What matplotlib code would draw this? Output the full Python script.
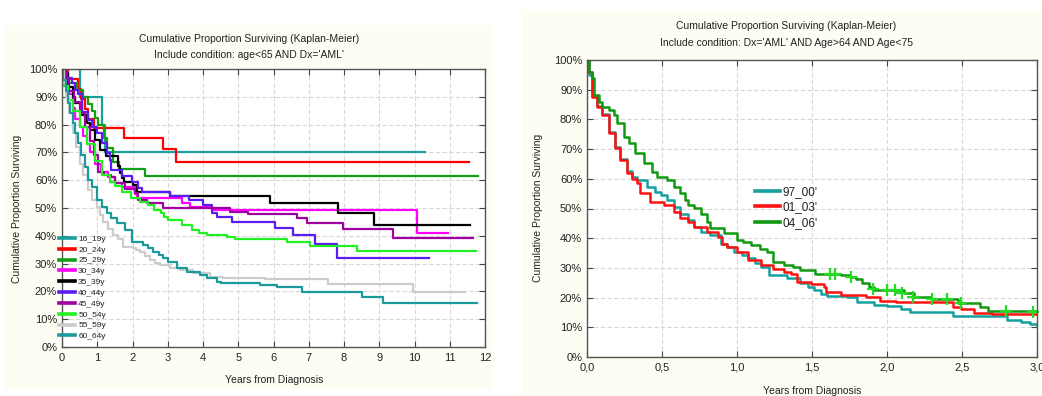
import matplotlib
matplotlib.use("Agg")
import matplotlib.pyplot as plt
from matplotlib.patches import Rectangle
from matplotlib.ticker import FuncFormatter, MultipleLocator

plt.rcParams['font.family'] = ['Liberation Sans', 'DejaVu Sans']

# ---------------- Left panel data (age < 65) ----------------
left_labels = ['16_19y', '20_24y', '25_29y', '30_34y', '35_39y',
               '40_44y', '45_49y', '50_54y', '55_59y', '60_64y']
left_colors = ['#1a9e9e', '#ff0000', '#12a012', '#ff00ff', '#000000',
               '#5b1cf2', '#a000a0', '#22f022', '#cccccc', '#1a9a9a']

t16 = [0, 0.5, 1.13, 1.22, 10.3]
s16 = [100, 90, 80, 70, 70]
t20 = [0, 0.17, 0.45, 0.55, 0.65, 0.75, 0.9, 1.76, 2.87, 3.23, 11.55]
s20 = [100, 96.4, 92.9, 89.3, 85.7, 82.1, 78.6, 75, 71.4, 66.7, 66.7]
t25 = [0, 0.1, 0.17, 0.43, 0.6, 0.75, 0.85, 0.95, 1.02, 1.2, 1.27, 1.45, 1.62, 2.36, 11.8]
s25 = [100, 97.5, 95, 92.5, 90, 87.5, 85, 82.5, 80, 75, 71.6, 66.5, 64, 61.5, 61.5]
t30 = [0, 0.1, 0.2, 0.3, 0.37, 0.5, 0.6, 0.7, 0.8, 0.95, 1.1, 1.3, 1.5, 1.7, 2.07, 2.12,
       3.4, 3.63, 4.25, 10.07, 10.95]
s30 = [100, 95, 91, 86, 82, 79, 76, 73, 70, 66, 63, 61, 59, 57.5, 55, 53.5,
       51.8, 50.5, 49.3, 41.1, 41.1]
t35 = [0, 0.08, 0.18, 0.3, 0.37, 0.56, 0.7, 0.8, 0.94, 1.08, 1.25, 1.6, 1.65, 1.7, 1.75,
       2.0, 2.12, 3.06, 5.9, 7.84, 8.85, 11.57]
s35 = [100, 98.5, 93.6, 90, 87.7, 83.4, 80.5, 78, 74.4, 70.9, 68.8, 65, 62.6, 60.8, 59.4,
       58.3, 55.9, 54.3, 51.7, 48.3, 43.9, 43.9]
t40 = [0, 0.13, 0.27, 0.37, 0.45, 0.56, 0.75, 0.84, 0.98, 1.13, 1.27, 1.36, 1.4, 1.7, 1.98,
       2.16, 2.26, 3.06, 3.6, 4.0, 4.25, 4.4, 4.81, 6.04, 6.56, 7.18, 7.8, 10.42]
s40 = [100, 96.8, 95, 92.4, 91, 84.6, 81.7, 79.2, 77, 73.3, 69.7, 67.3, 63.7, 61.5, 59.5,
       57.2, 55.9, 54.3, 52.9, 51, 48.3, 46.9, 45.1, 42.7, 40.3, 37, 31.9, 31.9]
t45 = [0, 0.1, 0.2, 0.35, 0.5, 0.65, 0.8, 0.9, 1.03, 1.2, 1.4, 1.5, 1.8, 2.07, 2.17, 2.4,
       2.87, 4.77, 5.28, 6.66, 6.94, 7.97, 9.4, 11.67]
s45 = [100, 96, 92, 88, 84, 79, 74, 69, 63, 62, 61, 59, 57, 55.5, 52.9, 51.7,
       49.9, 48.7, 47.8, 46.3, 44.5, 42.3, 39.1, 39.1]
t50 = [0, 0.05, 0.17, 0.3, 0.51, 0.7, 0.94, 1.13, 1.36, 1.5, 1.7, 1.97, 2.2, 2.45, 2.6,
       2.8, 2.9, 3.0, 3.4, 3.7, 3.9, 4.1, 4.67, 4.9, 6.37, 7.03, 8.36, 11.74]
s50 = [100, 94, 89, 85, 79, 73, 67, 62, 59.5, 58, 55.9, 53.6, 52.3, 51.1, 49.3,
       48.2, 46.9, 45.7, 43.9, 42.1, 41.1, 40.3, 39.4, 38.7, 37.9, 36.3, 34.5, 34.5]
t55 = [0, 0.05, 0.1, 0.2, 0.3, 0.4, 0.5, 0.6, 0.75, 0.85, 0.98, 1.08, 1.17, 1.3, 1.46,
       1.6, 1.74, 2.0, 2.1, 2.2, 2.35, 2.5, 2.65, 2.79, 3.06, 3.35, 3.72, 4.2, 4.58,
       5.76, 7.55, 9.97, 11.43]
s55 = [100, 95, 90, 84, 77, 72, 66, 62, 56.5, 53, 50.5, 47.5, 45.1, 42.5, 40.3,
       38.8, 36.1, 35.5, 34.8, 34.3, 32.8, 31.3, 30.3, 29.5, 28.4, 27.7, 26.6, 25.3, 25,
       24.3, 22.7, 19.9, 19.9]
t60 = [0, 0.03, 0.1, 0.17, 0.24, 0.31, 0.38, 0.45, 0.55, 0.65, 0.74, 0.85, 0.98, 1.13,
       1.27, 1.4, 1.55, 1.79, 1.98, 2.3, 2.45, 2.59, 2.75, 2.87, 3.0, 3.25, 3.54, 3.91,
       4.1, 4.39, 4.5, 5.62, 6.09, 6.8, 8.5, 9.12, 11.78]
s60 = [100, 96, 92, 87.7, 84, 80.5, 77, 73.4, 69, 64.7, 60, 57.5, 52.9, 50.4,
       48.2, 46.5, 44.6, 42.1, 37.9, 36.7, 35.5, 34.3, 33.2, 32, 30.7, 28.4, 27.1, 25.9,
       24.7, 23.5, 22.9, 22.3, 21.5, 19.9, 18.1, 15.7, 15.7]

left_times = [t16, t20, t25, t30, t35, t40, t45, t50, t55, t60]
left_surv = [s16, s20, s25, s30, s35, s40, s45, s50, s55, s60]

# ---------------- Right panel data (age 65-74) ----------------
right_labels = ["97_00'", "01_03'", "04_06'"]
right_colors = ['#17a0a0', '#ff1111', '#119911']

t97 = [0, 0.01, 0.03, 0.067, 0.1, 0.144, 0.189, 0.222, 0.267, 0.3, 0.333, 0.4, 0.45,
       0.49, 0.53, 0.58, 0.62, 0.67, 0.71, 0.76, 0.82, 0.89, 0.93, 0.98, 1.03, 1.07,
       1.12, 1.16, 1.21, 1.33, 1.42, 1.47, 1.51, 1.56, 1.6, 1.73, 1.8, 1.91, 2.0, 2.09,
       2.15, 2.4, 2.44, 2.71, 2.8, 2.89, 2.95, 3.0]
s97 = [100, 95, 88, 84.5, 81.8, 75.8, 70.8, 66.8, 62.5, 60.5, 59.5, 57.3, 55.5,
       54.5, 52.8, 50.6, 48.3, 46.1, 43.8, 42.1, 41, 38.2, 37, 35.4, 34.2, 33.2,
       31.8, 30.4, 27.6, 26.5, 24.8, 23.6, 22.5, 21.3, 20.5, 20.1, 18.6, 17.5, 17.2, 16,
       15.2, 15, 13.8, 13.8, 12.4, 11.9, 11.2, 10.4]
t01 = [0, 0.005, 0.03, 0.067, 0.1, 0.144, 0.189, 0.222, 0.267, 0.3, 0.333, 0.355, 0.42,
       0.51, 0.58, 0.62, 0.67, 0.71, 0.8, 0.87, 0.9, 0.93, 1.0, 1.07, 1.16, 1.24, 1.31,
       1.36, 1.4, 1.49, 1.58, 1.59, 1.69, 1.86, 1.95, 2.06, 2.44, 2.49, 2.58, 2.7, 3.0]
s01 = [100, 96, 87.6, 84.3, 81.5, 75.3, 70.3, 66.3, 61.8, 60, 58.5, 55.2, 52.2,
       51.1, 48.9, 46.7, 45.5, 43.8, 42.1, 40.5, 38.2, 37.1, 35.4, 32.6, 30.9, 29.5, 28.7,
       28.1, 25.3, 24.5, 23.6, 22, 20.9, 20.1, 19, 18.4, 16.9, 16, 14.7, 14.4, 14.4]
t04 = [0, 0.01, 0.03, 0.045, 0.078, 0.1, 0.144, 0.18, 0.2, 0.244, 0.28, 0.32, 0.378,
       0.433, 0.467, 0.533, 0.578, 0.622, 0.65, 0.67, 0.71, 0.76, 0.8, 0.82, 0.91, 1.0,
       1.04, 1.09, 1.15, 1.2, 1.24, 1.31, 1.37, 1.42, 1.52, 1.69, 1.75, 1.79, 1.83, 1.88,
       1.91, 2.11, 2.18, 2.29, 2.47, 2.62, 2.67, 3.0]
s04 = [100, 96, 93.8, 88.2, 86, 84.3, 83.2, 81.5, 78.7, 74.2, 72, 68.6, 65.2,
       62.4, 60.7, 59.6, 57.3, 55.1, 53, 51.1, 50.3, 48.3, 45.5, 43.3, 41.6, 39.4,
       38.8, 37.7, 36.2, 35.4, 32.1, 30.9, 30.2, 29.3, 28.1, 27.6, 26.8, 26.3, 24.8, 23.7,
       22.6, 21.5, 20.3, 19.4, 18.3, 16.7, 15.6, 15.6]
right_times = [t97, t01, t04]
right_surv = [s97, s01, s04]

cens_t04 = [1.62, 1.65, 1.76, 1.905, 2.0, 2.05, 2.1, 2.17, 2.3, 2.4, 2.49, 2.79, 2.97]
cens_s04 = [28.1, 28.1, 26.8, 23.0, 22.6, 22.6, 21.5, 20.3, 19.4, 19.4, 18.3, 15.6, 15.2]

# ---------------- Figure ----------------
W, H = 1042, 396
fig = plt.figure(figsize=(W / 100, H / 100), dpi=100)
fig.patch.set_facecolor('white')

def frect(x0, y0, x1, y1):
    return [x0 / W, 1 - y1 / H, (x1 - x0) / W, (y1 - y0) / H]

cream = '#fdfdf4'
for (x0, y0, x1, y1) in [(3, 25, 493, 390), (522, 10, 1042, 396)]:
    r = frect(x0, y0, x1, y1)
    fig.patches.append(Rectangle((r[0], r[1]), r[2], r[3], transform=fig.transFigure,
                                 facecolor=cream, edgecolor='none', zorder=-5))

ax1 = fig.add_axes(frect(62, 69, 485, 347))
ax2 = fig.add_axes(frect(587, 60, 1037, 357))

txt = '#222222'
for ax in (ax1, ax2):
    ax.set_zorder(2)
    ax.set_facecolor('white')
    ax.set_ylim(0, 100)
    ax.yaxis.set_major_locator(MultipleLocator(10))
    ax.yaxis.set_major_formatter(FuncFormatter(lambda v, p: f'{int(round(v))}%'))
    ax.grid(True, color='#d8d8d8', linestyle=(0, (4, 2)), linewidth=0.8)
    ax.set_axisbelow(True)
    ax.tick_params(direction='in', length=4, width=0.8, top=True, right=True,
                   labelsize=8, colors='#444444', labelcolor=txt, pad=4)
    ax.tick_params(axis='y', pad=3.5)
    for sp in ax.spines.values():
        sp.set_color('#555555')
        sp.set_linewidth(1.0)

ax1.set_xlim(0, 12)
ax1.xaxis.set_major_locator(MultipleLocator(1))
ax2.set_xlim(0, 3)
ax2.xaxis.set_major_locator(MultipleLocator(0.5))
ax2.xaxis.set_major_formatter(FuncFormatter(lambda v, p: f'{v:.1f}'.replace('.', ',')))

for t, s, c, lab in zip(left_times, left_surv, left_colors, left_labels):
    ax1.plot(t, s, drawstyle='steps-post', color=c, lw=1.6, label=lab)

for t, s, c, lab in zip(right_times, right_surv, right_colors, right_labels):
    ax2.plot(t, s, drawstyle='steps-post', color=c, lw=1.8, label=lab)
ax2.plot(cens_t04, cens_s04, linestyle='none', marker='+', markersize=8,
         markeredgewidth=1.6, color='#22dd22', clip_on=False)

leg1 = ax1.legend(loc='upper left', bbox_to_anchor=(59 / W, 1 - 235 / H),
                  bbox_transform=fig.transFigure, frameon=False, fontsize=6,
                  handlelength=1.9, handletextpad=0.4, labelspacing=0.36,
                  borderpad=0, borderaxespad=0)
for ln in leg1.get_lines():
    ln.set_linewidth(2.6)
for tx in leg1.get_texts():
    tx.set_color(txt)

leg2 = ax2.legend(loc='upper left', bbox_to_anchor=(755 / W, 1 - 186 / H),
                  bbox_transform=fig.transFigure, frameon=False, fontsize=8.5,
                  handlelength=2.1, handletextpad=0.2, labelspacing=0.3,
                  borderpad=0, borderaxespad=0)
for ln in leg2.get_lines():
    ln.set_linewidth(2.6)
for tx in leg2.get_texts():
    tx.set_color(txt)

# Titles and axis labels
def ftext(x, y, s, **kw):
    fig.text(x / W, 1 - y / H, s, color=txt, **kw)

ftext(249, 39, 'Cumulative Proportion Surviving (Kaplan-Meier)', ha='center', va='center', fontsize=7.5)
ftext(249, 55, "Include condition: age<65 AND Dx='AML'", ha='center', va='center', fontsize=7.5)
ftext(786, 26, 'Cumulative Proportion Surviving (Kaplan-Meier)', ha='center', va='center', fontsize=7.5)
ftext(786, 43, "Include condition: Dx='AML' AND Age>64 AND Age<75", ha='center', va='center', fontsize=7.5)
ftext(17, 209, 'Cumulative Proportion Surviving', ha='center', va='center', rotation=90, fontsize=7.5)
ftext(538, 208, 'Cumulative Proportion Surviving', ha='center', va='center', rotation=90, fontsize=7.5)
ftext(274, 380, 'Years from Diagnosis', ha='center', va='center', fontsize=7.5)
ftext(812, 391, 'Years from Diagnosis', ha='center', va='center', fontsize=7.5)

fig.savefig('out.png', dpi=100, facecolor=fig.get_facecolor())
